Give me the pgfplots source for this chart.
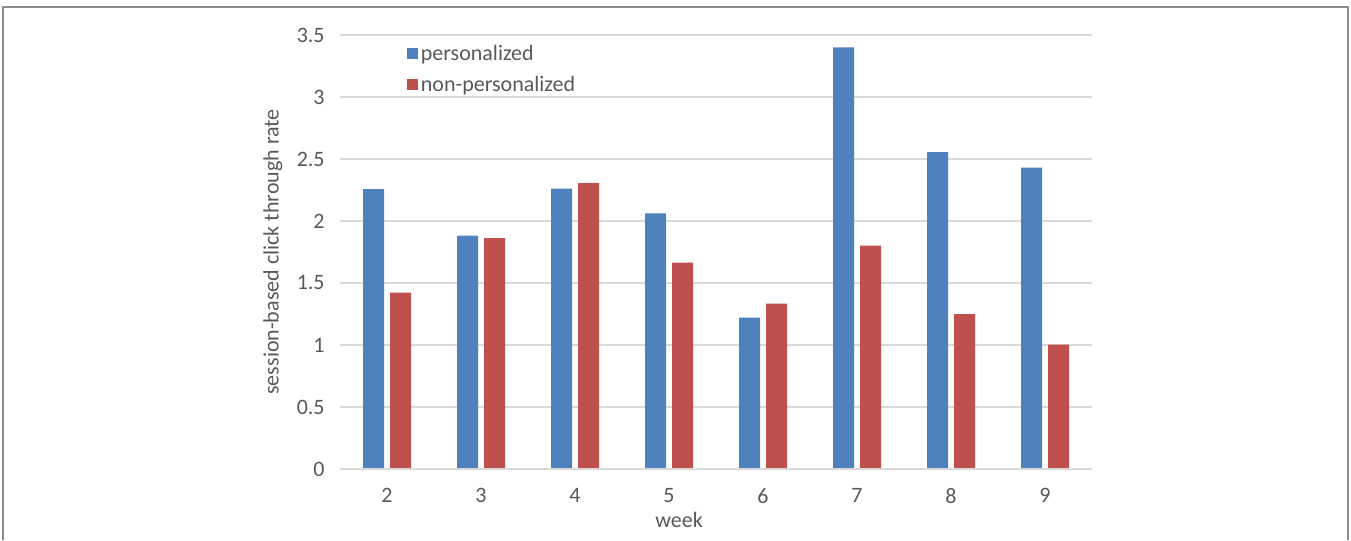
\documentclass[border=0pt]{standalone}
\usepackage{pgfplots}
\pgfplotsset{compat=1.18}
\usepackage{fontspec}
\setmainfont{Carlito}
\definecolor{serblue}{HTML}{4F81BD}
\definecolor{serred}{HTML}{C0504D}
\definecolor{txtgray}{HTML}{595959}
\definecolor{gridgray}{HTML}{D9D9D9}
\begin{document}
\begin{tikzpicture}
% page area and outer frame (1 unit = 0.75pt)
\begin{scope}[x=0.75pt,y=0.75pt]
\path[use as bounding box] (0,0) rectangle (1351,540);
\draw[color=black!45, line width=1.1pt] (3,0) -- (3,533) -- (1348,533) -- (1348,0);
\end{scope}
\begin{axis}[
  at={(255pt,53.25pt)}, anchor=south west,
  scale only axis,
  width=564pt, height=325.5pt,
  ybar=4.5pt, bar width=15.75pt,
  xmin=1.5, xmax=9.5,
  ymin=0, ymax=3.5,
  xtick={2,3,4,5,6,7,8,9},
  ytick={0,0.5,1,1.5,2,2.5,3,3.5},
  yticklabels={0,0.5,1,1.5,2,2.5,3,3.5},
  /pgf/number format/assume math mode=true,
  axis line style={draw=none},
  axis x line*=bottom,
  axis y line*=left,
  major tick length=0pt,
  ymajorgrids,
  grid style={gridgray, line width=1.1pt},
  tick label style={font=\fontsize{16.5}{18}\selectfont, text=txtgray},
  yticklabel style={xshift=-8pt},
  xticklabel style={yshift=-11pt},
  xlabel={week},
  ylabel={session-based click through rate},
  label style={font=\fontsize{16.5}{18}\selectfont, text=txtgray},
  xlabel style={yshift=0.5pt, xshift=-27.75pt},
  ylabel style={yshift=4pt},
  legend style={at={(0.089,0.984)}, anchor=north west, draw=none, fill=none,
    font=\fontsize{16.5}{18}\selectfont, text=txtgray,
    row sep=6.5pt, inner sep=0pt},
  legend cell align=left,
  legend image code/.code={\fill[#1] (0pt,-4.1pt) rectangle (8.25pt,4.1pt);},
  clip=false,
]
\addplot[fill=serblue, draw=none] coordinates {
  (2,2.258) (3,1.882) (4,2.261) (5,2.062) (6,1.221) (7,3.401) (8,2.556) (9,2.431)};
\addplot[fill=serred, draw=none] coordinates {
  (2,1.423) (3,1.861) (4,2.306) (5,1.665) (6,1.334) (7,1.802) (8,1.250) (9,1.003)};
\legend{personalized, non-personalized}
\draw[color=gridgray, line width=1.6pt] (axis cs:1.5,0) -- (axis cs:9.5,0);
\end{axis}
\end{tikzpicture}
\end{document}
